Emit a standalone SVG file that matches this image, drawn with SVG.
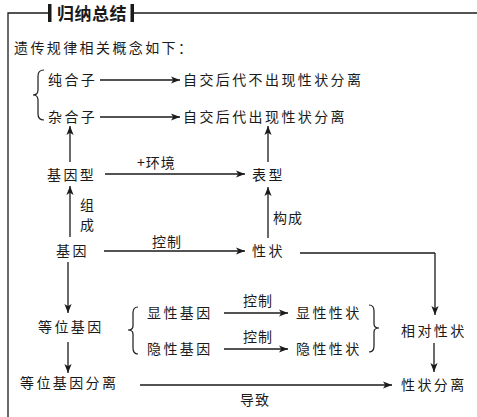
<svg xmlns="http://www.w3.org/2000/svg" width="477" height="417" viewBox="0 0 477 417">
<defs>
<marker id="ah" viewBox="0 0 10 10" refX="10" refY="5" markerWidth="9" markerHeight="9" markerUnits="userSpaceOnUse" orient="auto">
<path d="M0,1 L10,5 L0,9 L2.5,5 Z" fill="#1a1a1a"/>
</marker>
<style>
text{font-family:"Noto Sans CJK SC","Noto Sans CJK JP",sans-serif;fill:#1a1a1a}
.t{font-size:14px;letter-spacing:2.4px}
.s{font-size:14px;letter-spacing:1px}
.ln{stroke:#1a1a1a;stroke-width:1.3;fill:none}
.ar{stroke:#1a1a1a;stroke-width:1.3;fill:none;marker-end:url(#ah)}
.br{stroke:#1a1a1a;stroke-width:1.2;fill:none}
</style>
</defs>
<rect width="477" height="417" fill="#fff"/>
<g id="frame">
<path class="ln" d="M8,417 L8,13 L48,13"/>
<path class="ln" d="M134,13 L477,13"/>
<rect x="48" y="4" width="3.5" height="18" fill="#1a1a1a"/>
<rect x="130.5" y="4" width="3.5" height="18" fill="#1a1a1a"/>
<text x="57" y="20" style="font-size:17px;font-weight:bold;letter-spacing:0.5px">归纳总结</text>
<text class="t" x="14" y="53">遗传规律相关概念如下：</text>
</g>
<g id="connectors">
<path class="ar" d="M100,80 L180,80"/>
<path class="ar" d="M100,117 L180,117"/>
<path class="ar" d="M70,162 L70,126"/>
<path class="ar" d="M268,162 L268,126"/>
<path class="ar" d="M105,174 L245,174"/>
<path class="ar" d="M70,237 L70,186"/>
<path class="ar" d="M104,251 L245,251"/>
<path class="ar" d="M268,238 L268,187"/>
<path class="ln" d="M300,253 L435,253 L435,253"/>
<path class="ar" d="M435,253 L435,315"/>
<path class="ar" d="M68,262 L68,313"/>
<path class="ar" d="M68,342 L68,373"/>
<path class="ar" d="M224,313 L288,313"/>
<path class="ar" d="M224,349 L288,349"/>
<path class="ar" d="M434,343 L434,372"/>
<path class="ar" d="M140,385 L392,385"/>
<text class="s" x="137" y="168">+环境</text>
<text class="s" x="80" y="210">组</text>
<text class="s" x="80" y="230">成</text>
<text class="s" x="152" y="247">控制</text>
<text class="s" x="273" y="223">构成</text>
<text class="s" x="243" y="306">控制</text>
<text class="s" x="243" y="342">控制</text>
<text class="s" x="240" y="405">导致</text>
</g>
<g id="brace1"><path class="br" d="M44,70 Q38,70 38,76 L38,90 Q38,95 33,95 Q38,95 38,100 L38,114 Q38,120 44,120"/></g>
<g id="chunhezi"><text class="t" x="48" y="85">纯合子</text></g>
<g id="zahezi"><text class="t" x="48" y="122">杂合子</text></g>
<g id="zijiao1"><text class="t" x="183" y="85">自交后代不出现性状分离</text></g>
<g id="zijiao2"><text class="t" x="183" y="122">自交后代出现性状分离</text></g>
<g id="jiyinxing"><text class="t" x="47" y="180">基因型</text></g>
<g id="biaoxing"><text class="t" x="252" y="180">表型</text></g>
<g id="jiyin"><text class="t" x="56" y="256">基因</text></g>
<g id="xingzhuang"><text class="t" x="252" y="256">性状</text></g>
<g id="dengwei"><text class="t" x="38" y="332">等位基因</text></g>
<g id="brace2"><path class="br" d="M138,307 Q133,307 133,313 L133,326 Q133,330 128,330 Q133,330 133,334 L133,348 Q133,354 138,354"/></g>
<g id="xianxingjiyin"><text class="t" x="147" y="318">显性基因</text></g>
<g id="yinxingjiyin"><text class="t" x="147" y="354">隐性基因</text></g>
<g id="xianxingxz"><text class="t" x="296" y="318">显性性状</text></g>
<g id="yinxingxz"><text class="t" x="296" y="354">隐性性状</text></g>
<g id="brace3"><path class="br" d="M369,305 Q374,305 374,311 L374,324 Q374,328 379,328 Q374,328 374,332 L374,346 Q374,352 369,352"/></g>
<g id="xiangdui"><text class="t" x="401" y="336">相对性状</text></g>
<g id="dengweifenli"><text class="t" x="20" y="388">等位基因分离</text></g>
<g id="xzfenli"><text class="t" x="401" y="390">性状分离</text></g>
</svg>
